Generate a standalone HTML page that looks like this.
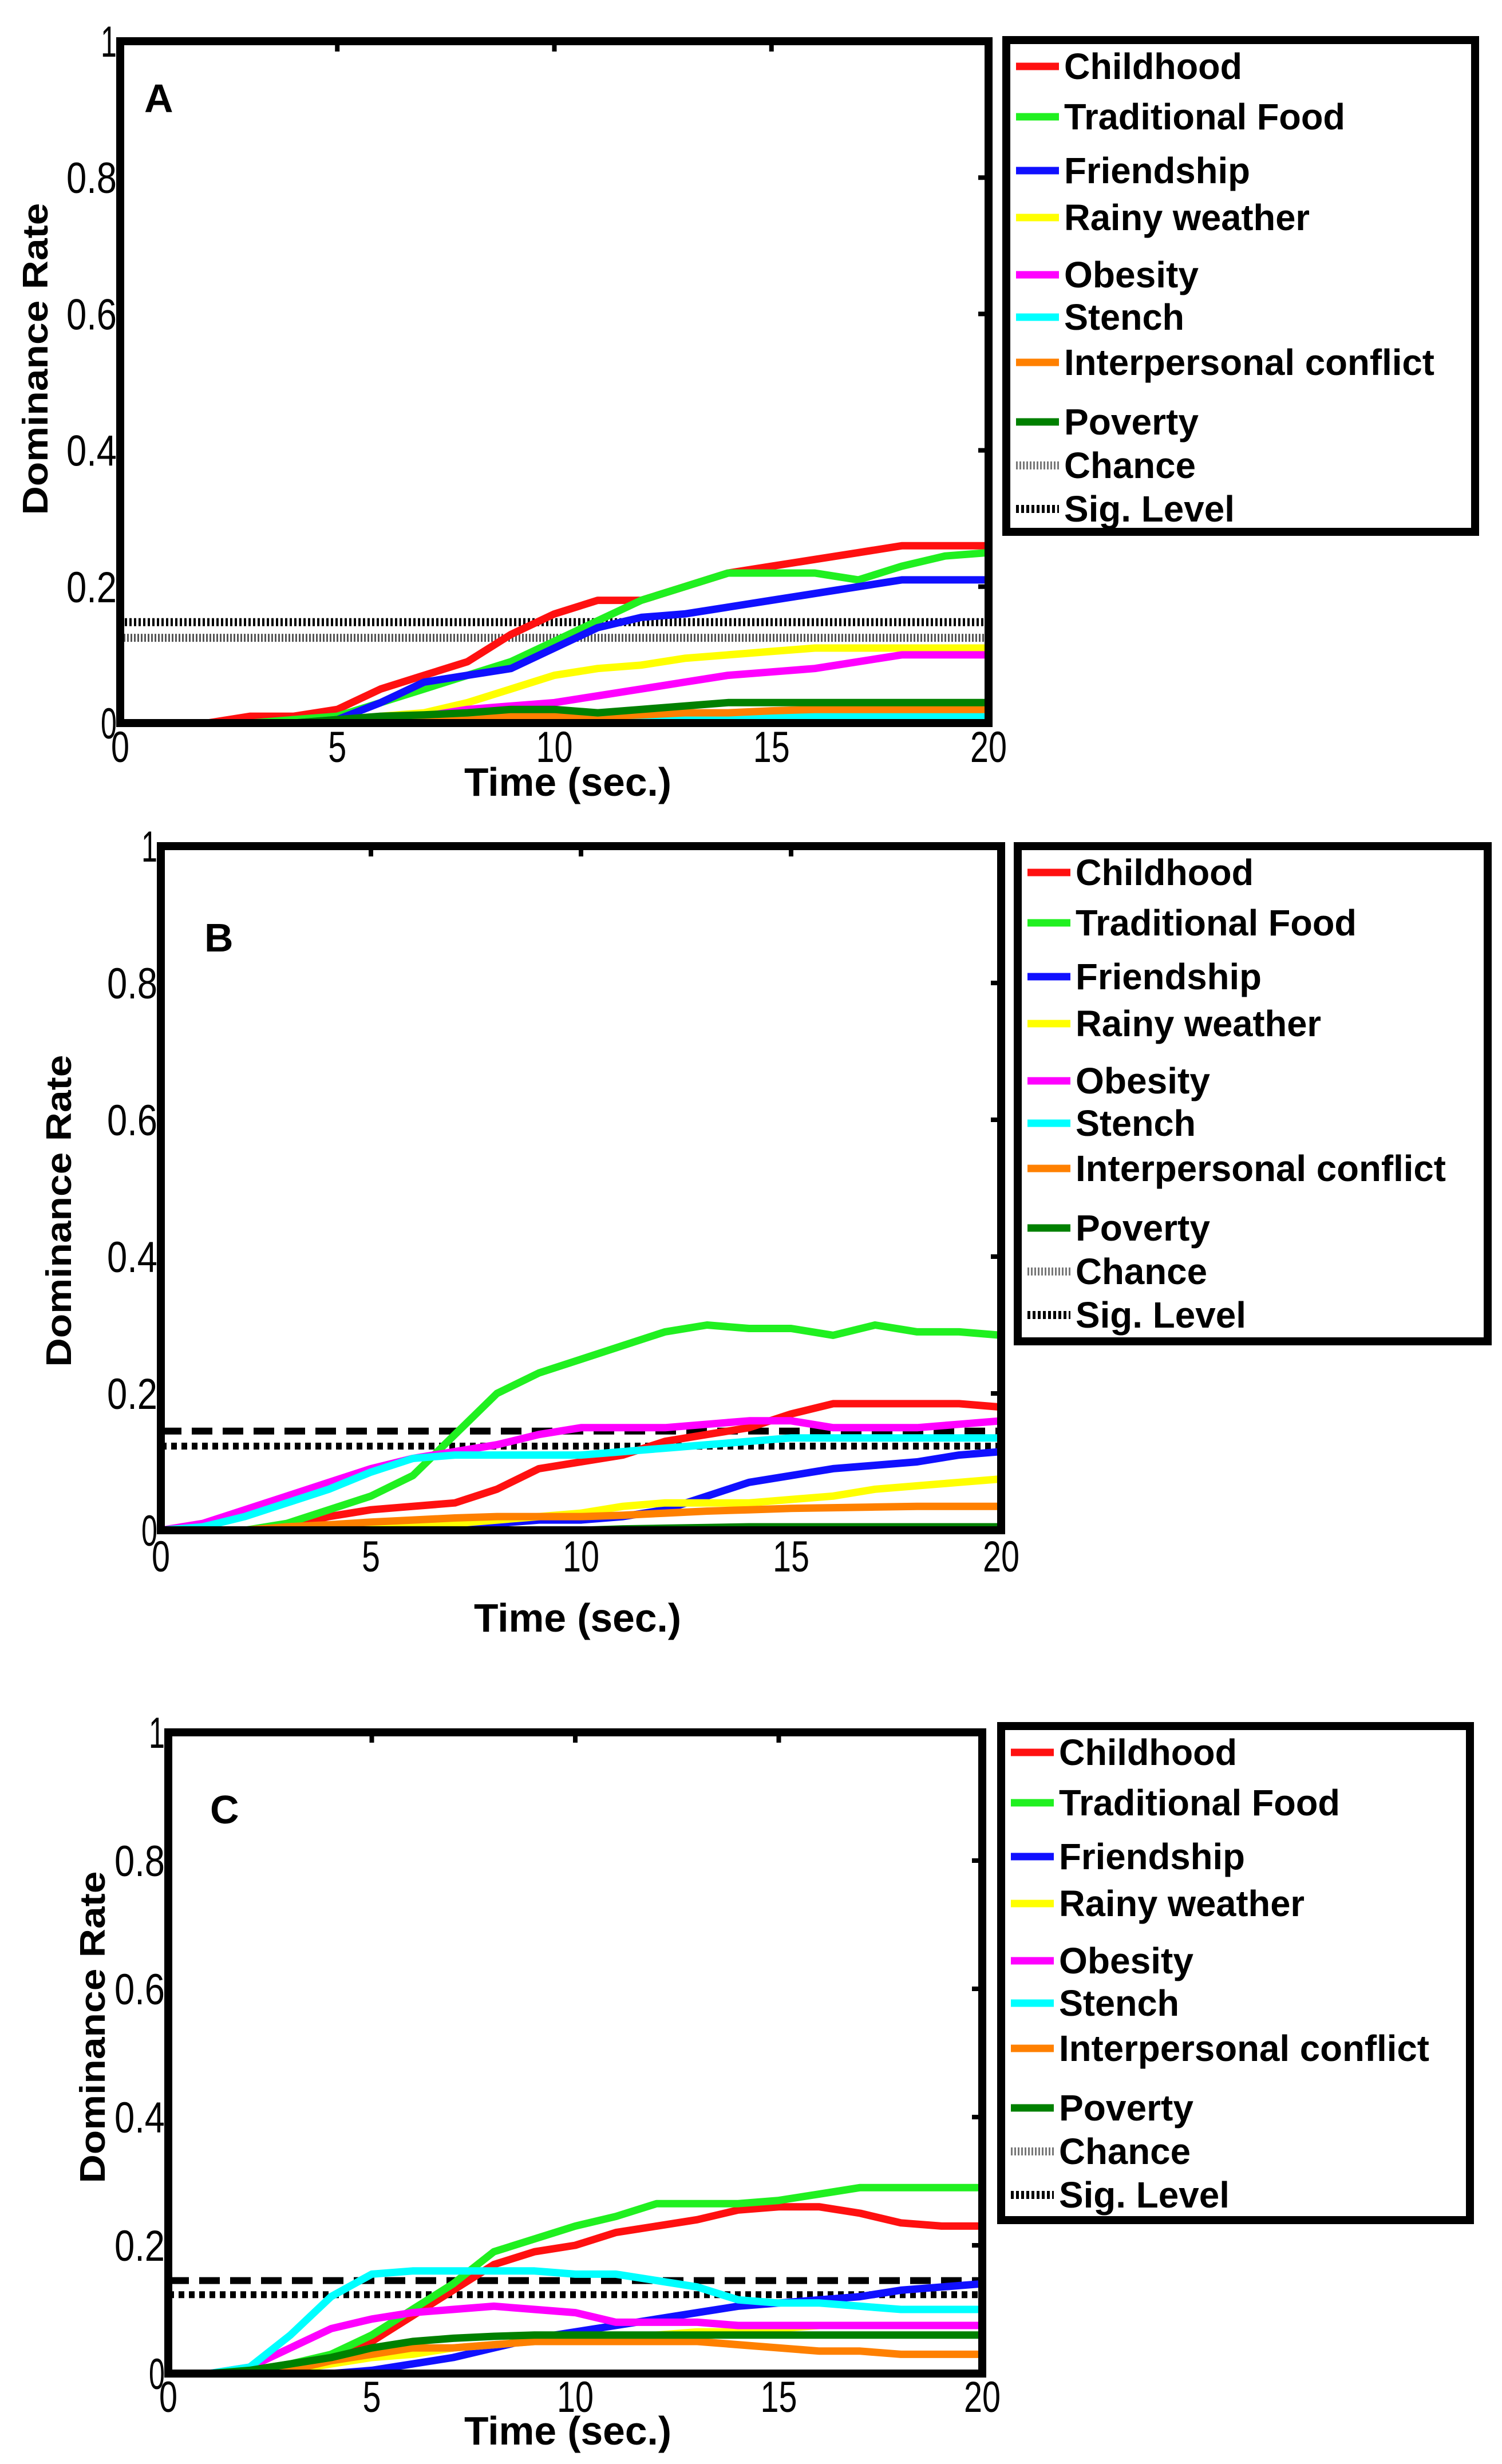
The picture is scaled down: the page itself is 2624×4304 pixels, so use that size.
<!DOCTYPE html>
<html><head><meta charset="utf-8">
<style>
html,body{margin:0;padding:0;background:#fff;}
svg{display:block;}
text{font-family:"Liberation Sans",Arial,sans-serif;}
</style></head>
<body>
<svg id="fig" width="2624" height="4304" viewBox="0 0 2624 4304" xmlns="http://www.w3.org/2000/svg"></svg>
<script>
const times = [0,1,2,3,4,5,6,7,8,9,10,11,12,13,14,15,16,17,18,19,20];
const seriesNames = ["Childhood","Traditional Food","Friendship","Rainy weather","Obesity","Stench","Interpersonal conflict","Poverty"];
const seriesColors = ["#ff1010","#20f020","#1010ff","#ffff00","#ff00ff","#00ffff","#ff8000","#008000"];
const xTickValues = [0,5,10,15,20];
const xTickLabels = ["0","5","10","15","20"];
const yTickValues = [0,0.2,0.4,0.6,0.8,1];
const yTickLabels = ["0","0.2","0.4","0.6","0.8","1"];
const chanceLevel = [0.125,0.123,0.123];
const sigLevel = [0.148,0.145,0.145];

const childhoodA = [0,0,0,0.01,0.01,0.02,0.05,0.07,0.09,0.13,0.16,0.18,0.18,0.2,0.22,0.23,0.24,0.25,0.26,0.26,0.26];
const tradFoodA = [0,0,0,0,0.005,0.01,0.03,0.05,0.07,0.09,0.12,0.15,0.18,0.2,0.22,0.22,0.22,0.21,0.23,0.245,0.25];
const friendshipA = [0,0,0,0,0,0.005,0.03,0.06,0.07,0.08,0.11,0.14,0.155,0.16,0.17,0.18,0.19,0.2,0.21,0.21,0.21];
const rainyA = [0,0,0,0,0,0,0.01,0.015,0.03,0.05,0.07,0.08,0.085,0.095,0.1,0.105,0.11,0.11,0.11,0.11,0.11];
const obesityA = [0,0,0,0,0,0,0.005,0.01,0.02,0.025,0.03,0.04,0.05,0.06,0.07,0.075,0.08,0.09,0.1,0.1,0.1];
const stenchA = [0,0,0,0,0,0,0,0,0,0,0.005,0.005,0.01,0.01,0.01,0.01,0.01,0.01,0.01,0.01,0.01];
const conflictA = [0,0,0,0,0,0,0,0.003,0.005,0.01,0.01,0.01,0.012,0.015,0.015,0.018,0.02,0.02,0.02,0.02,0.02];
const povertyA = [0,0,0,0,0,0.005,0.01,0.012,0.015,0.02,0.02,0.015,0.02,0.025,0.03,0.03,0.03,0.03,0.03,0.03,0.03];

const childhoodB = [0,0,0,0.005,0.02,0.03,0.035,0.04,0.06,0.09,0.1,0.11,0.13,0.14,0.15,0.17,0.185,0.185,0.185,0.185,0.18];
const tradFoodB = [0,0,0,0.01,0.03,0.05,0.08,0.14,0.2,0.23,0.25,0.27,0.29,0.3,0.295,0.295,0.285,0.3,0.29,0.29,0.285];
const friendshipB = [0,0,0,0,0,0,0,0.005,0.01,0.015,0.015,0.02,0.03,0.05,0.07,0.08,0.09,0.095,0.1,0.11,0.115];
const rainyB = [0,0,0,0,0,0.002,0.005,0.01,0.015,0.02,0.025,0.035,0.04,0.04,0.04,0.045,0.05,0.06,0.065,0.07,0.075];
const obesityB = [0,0.01,0.03,0.05,0.07,0.09,0.105,0.115,0.125,0.14,0.15,0.15,0.15,0.155,0.16,0.16,0.15,0.15,0.15,0.155,0.16];
const stenchB = [0,0.005,0.02,0.04,0.06,0.085,0.105,0.11,0.11,0.11,0.11,0.115,0.12,0.125,0.13,0.135,0.135,0.135,0.135,0.135,0.135];
const conflictB = [0,0,0,0.005,0.008,0.012,0.015,0.018,0.02,0.02,0.02,0.022,0.025,0.028,0.03,0.032,0.033,0.034,0.035,0.035,0.035];
const povertyB = [0,0,0,0,0,0,0,0,0,0,0,0.002,0.003,0.004,0.005,0.005,0.005,0.005,0.005,0.005,0.005];

const childhoodC = [0,0,0,0.01,0.03,0.05,0.09,0.13,0.17,0.19,0.2,0.22,0.23,0.24,0.255,0.26,0.26,0.25,0.235,0.23,0.23];
const tradFoodC = [0,0,0.005,0.015,0.03,0.06,0.1,0.14,0.19,0.21,0.23,0.245,0.265,0.265,0.265,0.27,0.28,0.29,0.29,0.29,0.29];
const friendshipC = [0,0,0,0,0,0.005,0.015,0.025,0.04,0.055,0.065,0.075,0.085,0.095,0.105,0.11,0.115,0.12,0.13,0.135,0.14];
const rainyC = [0,0,0,0.005,0.015,0.025,0.03,0.04,0.045,0.05,0.055,0.055,0.06,0.065,0.065,0.07,0.075,0.075,0.075,0.075,0.075];
const obesityC = [0,0,0.01,0.04,0.07,0.085,0.095,0.1,0.105,0.1,0.095,0.08,0.08,0.08,0.075,0.075,0.075,0.075,0.075,0.075,0.075];
const stenchC = [0,0,0.01,0.06,0.12,0.155,0.16,0.16,0.16,0.16,0.155,0.155,0.145,0.135,0.115,0.11,0.11,0.105,0.1,0.1,0.1];
const conflictC = [0,0,0,0.005,0.02,0.03,0.04,0.04,0.045,0.05,0.05,0.05,0.05,0.05,0.045,0.04,0.035,0.035,0.03,0.03,0.03];
const povertyC = [0,0,0.005,0.015,0.025,0.04,0.05,0.055,0.058,0.06,0.06,0.06,0.06,0.06,0.06,0.06,0.06,0.06,0.06,0.06,0.06];

const panelData = [
  [childhoodA,tradFoodA,friendshipA,rainyA,obesityA,stenchA,conflictA,povertyA],
  [childhoodB,tradFoodB,friendshipB,rainyB,obesityB,stenchB,conflictB,povertyB],
  [childhoodC,tradFoodC,friendshipC,rainyC,obesityC,stenchC,conflictC,povertyC]
];
const panelLetters = ["A","B","C"];

// layout (not data)
const layouts = [
  {L:210,R:1727,T:72,B:1263, legL:1758,legR:2577,legT:70,legB:929, ylabX:62,ylabY:627, xtY:1304, xtitleX:992,xtitleY:1390, letX:252,letY:196, sigStyle:"dense"},
  {L:281,R:1749,T:1478,B:2673, legL:1778,legR:2599,legT:1478,legB:2343, ylabX:103,ylabY:2115, xtY:2718, xtitleX:1009,xtitleY:2850, letX:357,letY:1662, sigStyle:"dash"},
  {L:294,R:1716,T:3026,B:4146, legL:1749,legR:2568,legT:3015,legB:3878, ylabX:162,ylabY:3541, xtY:4186, xtitleX:992,xtitleY:4270, letX:367,letY:3185, sigStyle:"dash"}
];
const legOffsets = [46,134,228,310,410,484,563,667,743,819];
const legWidths = [311,491,325,429,235,210,647,235,230,298];

const NS = "http://www.w3.org/2000/svg";
const svg = document.getElementById("fig");
function mk(tag, attrs, parent){
  const e = document.createElementNS(NS, tag);
  for (const k in attrs) e.setAttribute(k, attrs[k]);
  (parent||svg).appendChild(e);
  return e;
}

layouts.forEach((g, p) => {
  const grp = mk("g", {});
  
  
  const xs = v => g.L + (v/20)*(g.R-g.L);
  const ys = v => g.B - v*(g.B-g.T);

  const dashTop = g.sigStyle === "dense" ? "4,4" : "36,18";
  const sigLine = mk("line", {x1:g.L,x2:g.R,y1:ys(sigLevel[p]),y2:ys(sigLevel[p]),stroke:"#000","stroke-width":g.sigStyle==="dense"?14:12,"stroke-dasharray":dashTop}, grp);
  
  
  const chLine = mk("line", {x1:g.L,x2:g.R,y1:ys(chanceLevel[p]),y2:ys(chanceLevel[p]),stroke:g.sigStyle==="dense"?"#555":"#000","stroke-width":g.sigStyle==="dense"?14:12,"stroke-dasharray":g.sigStyle==="dense"?"3,3":"10,8"}, grp);
  
  

  panelData[p].forEach((arr, i) => {
    const pts = arr.map((v, k) => xs(times[k]).toFixed(1) + "," + ys(v).toFixed(1)).join(" ");
    const pl = mk("polyline", {points:pts, fill:"none", stroke:seriesColors[i], "stroke-width":13, "stroke-linejoin":"round", "stroke-linecap":"round"}, grp);
    
    
  });
  const fr = mk("rect", {x:g.L,y:g.T,width:g.R-g.L,height:g.B-g.T,fill:"none",stroke:"#000","stroke-width":14}, grp);
  
  

  xTickValues.forEach((v, i) => {
    mk("line", {x1:xs(v),x2:xs(v),y1:g.T,y2:g.T+18,stroke:"#000","stroke-width":8}, grp);
    const t = mk("text", {x:xs(v), y:g.xtY+27, "font-size":76, "text-anchor":"middle", fill:"#000", textLength: xTickLabels[i].length*32, lengthAdjust:"spacingAndGlyphs"}, grp);
    t.textContent = xTickLabels[i];
    
    
  });
  yTickValues.forEach((v, i) => {
    mk("line", {x1:g.R-18,x2:g.R,y1:ys(v),y2:ys(v),stroke:"#000","stroke-width":8}, grp);
    const t = mk("text", {x:g.L-6, y:ys(v)+27, "font-size":76, "text-anchor":"end", fill:"#000", textLength: yTickLabels[i].length===1?28:88, lengthAdjust:"spacingAndGlyphs"}, grp);
    t.textContent = yTickLabels[i];
    
    
  });

  const yl = mk("text", {x:0,y:0,"font-size":62,"font-weight":"bold","text-anchor":"middle",fill:"#000",transform:"translate("+(g.ylabX+21)+","+g.ylabY+") rotate(-90)",textLength:545,lengthAdjust:"spacingAndGlyphs"}, grp);
  yl.textContent = "Dominance Rate";
  
  
  const xl = mk("text", {x:g.xtitleX,y:g.xtitleY,"font-size":70,"font-weight":"bold","text-anchor":"middle",fill:"#000",textLength:362,lengthAdjust:"spacingAndGlyphs"}, grp);
  xl.textContent = "Time (sec.)";
  
  
  const lt = mk("text", {x:g.letX,y:g.letY,"font-size":70,"font-weight":"bold",fill:"#000"}, grp);
  lt.textContent = panelLetters[p];
  
  

  const lg = mk("g", {}, grp);
  
  
  mk("rect", {x:g.legL,y:g.legT,width:g.legR-g.legL,height:g.legB-g.legT,fill:"#fff",stroke:"#000","stroke-width":14}, lg);
  const labels = seriesNames.concat(["Chance","Sig. Level"]);
  labels.forEach((name, i) => {
    const cy = g.legT + legOffsets[i];
    let ln;
    if (i < 8) {
      ln = mk("line", {x1:g.legL+17,x2:g.legL+92,y1:cy,y2:cy,stroke:seriesColors[i],"stroke-width":13}, lg);
    } else if (i === 8) {
      ln = mk("line", {x1:g.legL+17,x2:g.legL+92,y1:cy,y2:cy,stroke:"#777","stroke-width":14,"stroke-dasharray":"3,3"}, lg);
    } else {
      ln = mk("line", {x1:g.legL+17,x2:g.legL+92,y1:cy,y2:cy,stroke:"#000","stroke-width":14,"stroke-dasharray":"5,4"}, lg);
    }
    
    
    const t = mk("text", {x:g.legL+101,y:cy+22,"font-size":64,"font-weight":"bold",fill:"#000",textLength:legWidths[i],lengthAdjust:"spacingAndGlyphs"}, lg);
    t.textContent = name;
    
    
  });
});
</script>
</body></html>
